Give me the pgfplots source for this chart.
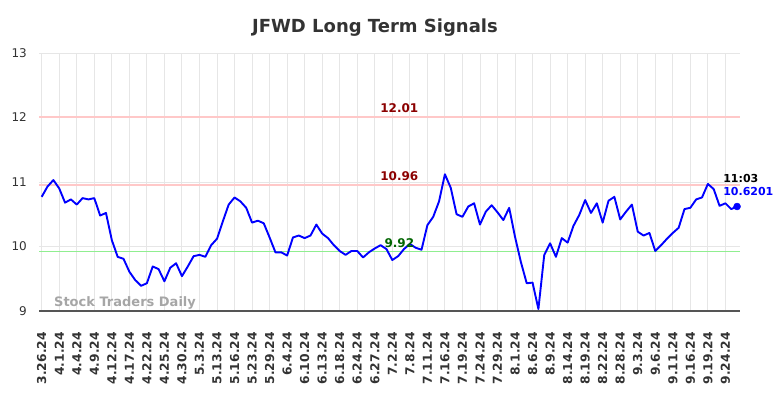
\documentclass[border=0pt]{standalone}
\usepackage{fontspec}
\setmainfont{DejaVu Sans}
\usepackage{pgfplots}
\pgfplotsset{compat=1.18}
\definecolor{titlegray}{HTML}{333333}
\definecolor{tickgray}{HTML}{333333}
\definecolor{gridgray}{HTML}{E6E6E6}
\definecolor{axisgray}{HTML}{555555}
\definecolor{reslight}{HTML}{FFC8C8}
\definecolor{suplight}{HTML}{90EE90}
\definecolor{resdark}{HTML}{8B0000}
\definecolor{supdark}{HTML}{006400}
\definecolor{wmgray}{HTML}{A6A6A6}
\begin{document}
\begin{tikzpicture}[x=1pt,y=1pt]
\path[use as bounding box] (0,0) rectangle (784,398);
\node[anchor=base, text=titlegray, font=\bfseries\fontsize{18}{20}\selectfont] at (375,365) {JFWD Long Term Signals};
\begin{axis}[
  at={(39pt,87pt)}, anchor=south west,
  scale only axis, width=701pt, height=258pt,
  xmin=-0.46, xmax=119.5, ymin=9, ymax=13,
  clip=false,
  axis line style={draw=none},
  major tick length=0pt,
  grid=major,
  major grid style={color=gridgray, line width=0.9pt},
  ytick={9,10,11,12,13},
  /pgf/number format/assume math mode=true,
  yticklabel style={font=\fontsize{12}{14}\selectfont, text=tickgray, inner sep=0pt, xshift=-12pt},
  xtick={0,3,...,117},
  xticklabels={3.26.24,4.1.24,4.4.24,4.9.24,4.12.24,4.17.24,4.22.24,4.25.24,4.30.24,5.3.24,5.13.24,5.16.24,5.23.24,5.29.24,6.4.24,6.10.24,6.13.24,6.18.24,6.24.24,6.27.24,7.2.24,7.8.24,7.11.24,7.16.24,7.19.24,7.24.24,7.29.24,8.1.24,8.6.24,8.9.24,8.14.24,8.19.24,8.22.24,8.28.24,9.3.24,9.6.24,9.11.24,9.16.24,9.19.24,9.24.24},
  xticklabel style={rotate=90, anchor=east, inner sep=0pt, xshift=-21pt, font=\bfseries\fontsize{12.3}{14}\selectfont, text=tickgray},
]
\addplot[reslight, line width=2pt, forget plot] coordinates {(-0.46,12.01) (119.5,12.01)};
\addplot[reslight, line width=2pt, forget plot] coordinates {(-0.46,10.96) (119.5,10.96)};
\addplot[suplight, line width=1.6pt, forget plot] coordinates {(-0.46,9.92) (119.5,9.92)};
\draw[axisgray, line width=1.2pt] (rel axis cs:0,0) -- (rel axis cs:1,0);
\addplot[blue, line width=1.9pt, line join=round] coordinates {
(0,10.77) (1,10.93) (2,11.03) (3,10.90) (4,10.68) (5,10.73) (6,10.65) (7,10.75) (8,10.73) (9,10.75)
(10,10.48) (11,10.52) (12,10.10) (13,9.84) (14,9.81) (15,9.61) (16,9.48) (17,9.39) (18,9.43) (19,9.69)
(20,9.65) (21,9.46) (22,9.67) (23,9.74) (24,9.54) (25,9.69) (26,9.85) (27,9.87) (28,9.84) (29,10.02)
(30,10.12) (31,10.39) (32,10.65) (33,10.76) (34,10.70) (35,10.60) (36,10.37) (37,10.40) (38,10.36) (39,10.14)
(40,9.91) (41,9.91) (42,9.86) (43,10.14) (44,10.17) (45,10.13) (46,10.17) (47,10.34) (48,10.20) (49,10.13)
(50,10.02) (51,9.93) (52,9.87) (53,9.93) (54,9.93) (55,9.83) (56,9.91) (57,9.97) (58,10.02) (59,9.96)
(60,9.79) (61,9.85) (62,9.96) (63,10.04) (64,9.98) (65,9.95) (66,10.33) (67,10.46) (68,10.70) (69,11.12)
(70,10.91) (71,10.50) (72,10.46) (73,10.62) (74,10.67) (75,10.34) (76,10.54) (77,10.64) (78,10.53) (79,10.41)
(80,10.60) (81,10.15) (82,9.76) (83,9.43) (84,9.44) (85,9.03) (86,9.87) (87,10.05) (88,9.84) (89,10.13)
(90,10.06) (91,10.32) (92,10.49) (93,10.72) (94,10.52) (95,10.67) (96,10.37) (97,10.71) (98,10.77) (99,10.42)
(100,10.54) (101,10.65) (102,10.23) (103,10.17) (104,10.21) (105,9.93) (106,10.02) (107,10.12) (108,10.21) (109,10.29)
(110,10.58) (111,10.60) (112,10.73) (113,10.76) (114,10.97) (115,10.89) (116,10.63) (117,10.67) (118,10.58) (119,10.6201)
};
\addplot[blue, only marks, mark=*, mark size=3.5pt] coordinates {(119,10.6201)};
\node[anchor=base, text=resdark, font=\bfseries\fontsize{12}{14}\selectfont, yshift=4pt] at (axis cs:61.2,12.01) {12.01};
\node[anchor=base, text=resdark, font=\bfseries\fontsize{12}{14}\selectfont, yshift=4pt] at (axis cs:61.2,10.96) {10.96};
\node[anchor=base, text=supdark, font=\bfseries\fontsize{12}{14}\selectfont, yshift=4pt] at (axis cs:61.2,9.92) {9.92};
\node[anchor=base west, inner sep=0pt, text=black, font=\bfseries\fontsize{11}{13}\selectfont, xshift=-14pt, yshift=24pt] at (axis cs:119,10.6201) {11:03};
\node[anchor=base west, inner sep=0pt, text=blue, font=\bfseries\fontsize{11}{13}\selectfont, xshift=-14pt, yshift=11.5pt] at (axis cs:119,10.6201) {10.6201};
\node[anchor=base west, inner sep=0pt, text=wmgray, font=\bfseries\fontsize{13}{15}\selectfont] at (axis cs:2.1,9.075) {Stock Traders Daily};
\end{axis}
\end{tikzpicture}
\end{document}
